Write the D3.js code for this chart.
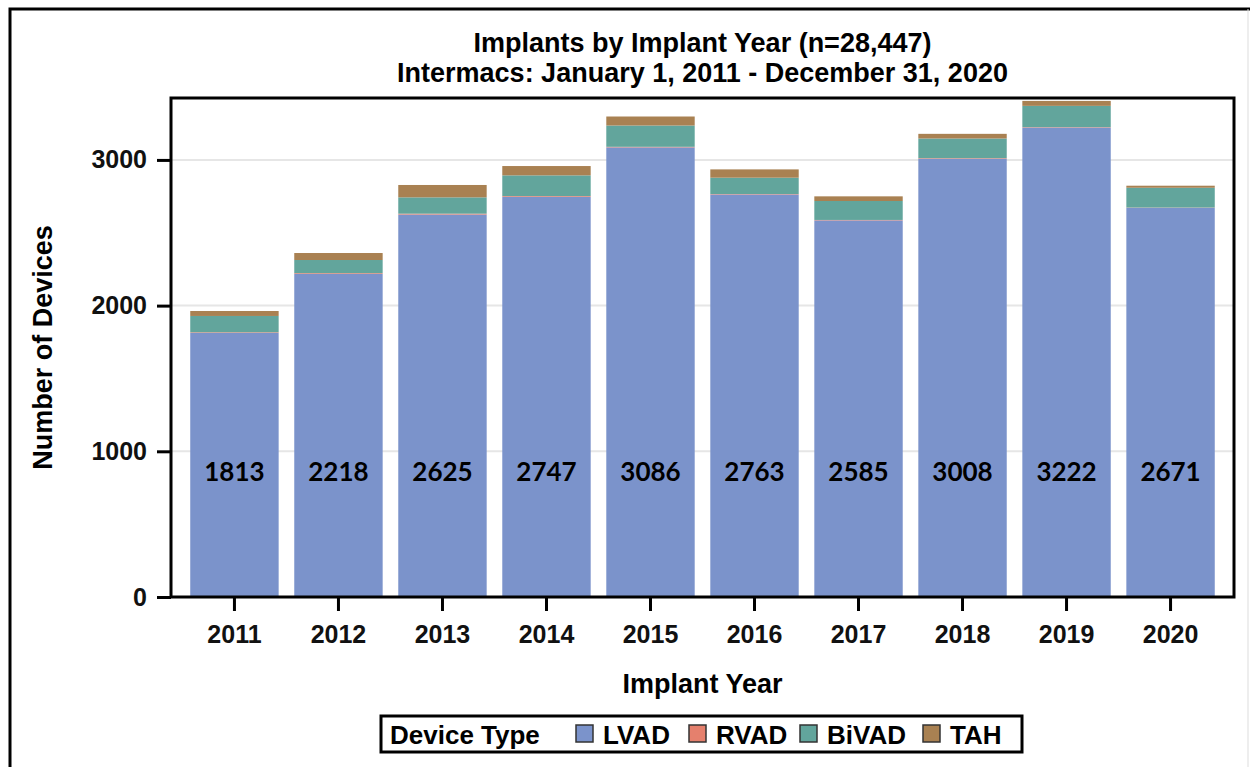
<!DOCTYPE html>
<html>
<head>
<meta charset="utf-8">
<script src="https://cdnjs.cloudflare.com/ajax/libs/d3/7.8.5/d3.min.js"></script>
<style>
  html, body { margin: 0; padding: 0; background: #fff; }
  svg { display: block; font-family: "Liberation Sans", Arial, sans-serif; }
</style>
</head>
<body>
<script>
(function () {
    var width = 1250,
        height = 767;

    // data
    var years = ['2011', '2012', '2013', '2014', '2015', '2016', '2017', '2018', '2019', '2020'];
    var deviceTypes = ['LVAD', 'RVAD', 'BiVAD', 'TAH'];
    var lvad = [1813, 2218, 2625, 2747, 3086, 2763, 2585, 3008, 3222, 2671];
    var rvad = [4, 5, 6, 5, 4, 3, 3, 4, 3, 2];
    var bivad = [112, 90, 112, 142, 146, 112, 130, 135, 146, 136];
    var tah = [34, 48, 85, 64, 62, 57, 32, 32, 34, 14];
    var yTicks = [0, 1000, 2000, 3000];

    var colors = {
        LVAD: '#7b93cb',
        RVAD: '#e5806d',
        BiVAD: '#62a59c',
        TAH: '#a98152'
    };

    var rows = years.map(function (yr, i) {
        return { year: yr, LVAD: lvad[i], RVAD: rvad[i], BiVAD: bivad[i], TAH: tah[i] };
    });

    var plot = { left: 171, right: 1234, top: 98, bottom: 597 };

    var svg = d3.select('body').append('svg')
        .attr('width', width)
        .attr('height', height);

    // outer border
    svg.append('path')
        .attr('d', 'M10,' + height + 'V9H' + width)
        .attr('fill', 'none')
        .attr('stroke', '#000')
        .attr('stroke-width', 3);
    svg.append('line')
        .attr('x1', 1248).attr('x2', 1248)
        .attr('y1', 9).attr('y2', height)
        .attr('stroke', '#ddd')
        .attr('stroke-width', 1);

    var x = d3.scaleBand()
        .domain(years)
        .range([plot.left, plot.right])
        .paddingInner(0.15)
        .paddingOuter(0.185);

    var y = d3.scaleLinear()
        .domain([0, 3425])
        .range([plot.bottom, plot.top]);

    // gridlines
    svg.append('g')
        .selectAll('line')
        .data(yTicks.filter(function (d) { return d > 0; }))
        .enter().append('line')
        .attr('x1', plot.left)
        .attr('x2', plot.right)
        .attr('y1', function (d) { return y(d); })
        .attr('y2', function (d) { return y(d); })
        .attr('stroke', '#e6e6e6')
        .attr('stroke-width', 2);

    var stacked = d3.stack().keys(deviceTypes)(rows);

    svg.append('g')
        .selectAll('g')
        .data(stacked)
        .enter().append('g')
        .attr('fill', function (d) { return colors[d.key]; })
        .selectAll('rect')
        .data(function (d) { return d; })
        .enter().append('rect')
        .attr('x', function (d) { return x(d.data.year); })
        .attr('width', x.bandwidth())
        .attr('y', function (d) { return y(d[1]); })
        .attr('height', function (d) { return y(d[0]) - y(d[1]); });

    // LVAD count labels
    svg.append('g')
        .selectAll('text')
        .data(rows)
        .enter().append('text')
        .attr('x', function (d) { return x(d.year) + x.bandwidth() / 2; })
        .attr('y', 472)
        .attr('dy', '0.35em')
        .attr('text-anchor', 'middle')
        .style('font-family', 'Lato, "Open Sans", sans-serif')
        .style('font-weight', 'bold')
        .style('font-size', '26px')
        .attr('fill', '#000')
        .text(function (d) { return d.LVAD; });

    // frame
    svg.append('rect')
        .attr('x', plot.left)
        .attr('y', plot.top)
        .attr('width', plot.right - plot.left)
        .attr('height', plot.bottom - plot.top)
        .attr('fill', 'none')
        .attr('stroke', '#000')
        .attr('stroke-width', 3);

    // y axis
    var yAxis = svg.append('g')
        .attr('transform', 'translate(' + plot.left + ',0)')
        .call(d3.axisLeft(y).tickValues(yTicks).tickSize(14).tickPadding(10).tickFormat(d3.format('d')));
    yAxis.select('.domain').remove();
    yAxis.selectAll('line').attr('stroke-width', 3);
    yAxis.selectAll('text')
        .style('font-size', '25px')
        .style('font-weight', 'bold')
        .style('font-family', '"Liberation Sans", Arial, sans-serif')
        .attr('fill', '#111');

    // x axis
    var xAxis = svg.append('g')
        .attr('transform', 'translate(0,' + plot.bottom + ')')
        .call(d3.axisBottom(x).tickSize(14).tickPadding(14));
    xAxis.select('.domain').remove();
    xAxis.selectAll('line').attr('stroke-width', 3);
    xAxis.selectAll('text')
        .style('font-size', '25px')
        .style('font-weight', 'bold')
        .style('font-family', '"Liberation Sans", Arial, sans-serif')
        .attr('fill', '#111');

    // titles
    var cx = (plot.left + plot.right) / 2;
    svg.append('text')
        .attr('x', cx).attr('y', 52)
        .attr('text-anchor', 'middle')
        .style('font-size', '27px').style('font-weight', 'bold')
        .text('Implants by Implant Year (n=28,447)');
    svg.append('text')
        .attr('x', cx).attr('y', 82)
        .attr('text-anchor', 'middle')
        .style('font-size', '27px').style('font-weight', 'bold')
        .text('Intermacs: January 1, 2011 - December 31, 2020');

    svg.append('text')
        .attr('x', cx).attr('y', 693)
        .attr('text-anchor', 'middle')
        .style('font-size', '27px').style('font-weight', 'bold')
        .text('Implant Year');

    svg.append('text')
        .attr('transform', 'translate(52,' + ((plot.top + plot.bottom) / 2) + ') rotate(-90)')
        .attr('text-anchor', 'middle')
        .style('font-size', '27px').style('font-weight', 'bold')
        .text('Number of Devices');

    // legend
    var legend = svg.append('g');
    legend.append('rect')
        .attr('x', 381).attr('y', 716)
        .attr('width', 641).attr('height', 36)
        .attr('fill', '#fff')
        .attr('stroke', '#000')
        .attr('stroke-width', 3);
    legend.append('text')
        .attr('x', 390).attr('y', 744)
        .style('font-size', '26px').style('font-weight', 'bold')
        .text('Device Type');

    var legendX = [576, 689, 800, 923];
    var items = legend.selectAll('g.item')
        .data(deviceTypes)
        .enter().append('g')
        .attr('class', 'item')
        .attr('transform', function (d, i) { return 'translate(' + legendX[i] + ',0)'; });
    items.append('rect')
        .attr('x', 0).attr('y', 725)
        .attr('width', 17).attr('height', 17)
        .attr('fill', function (d) { return colors[d]; })
        .attr('stroke', '#333')
        .attr('stroke-width', 1.5);
    items.append('text')
        .attr('x', 27).attr('y', 744)
        .style('font-size', '26px').style('font-weight', 'bold')
        .text(function (d) { return d; });
}());
</script>
</body>
</html>
